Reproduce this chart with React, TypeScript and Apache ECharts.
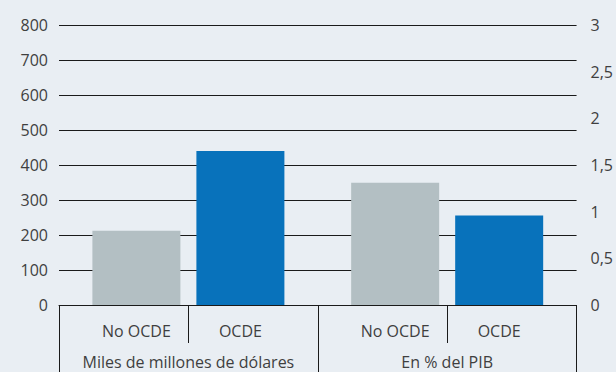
import React, { useEffect, useRef } from "react";
import * as echarts from "echarts";

const groups = ["Miles de millones de dólares", "En % del PIB"];
const seriesNames = ["No OCDE", "OCDE"];
const usdBillions = [212, 440]; // No OCDE, OCDE (left axis)
const pctGdp = [1.31, 0.96]; // No OCDE, OCDE (right axis)
const leftTicks = { min: 0, max: 800, interval: 100 };
const rightTicks = { min: 0, max: 3, interval: 0.5 };
const colors = ["#b3bfc3", "#0872bb"];

const FONT = "'Open Sans', sans-serif";
const TEXT = "#3f3f3f";

export default function App() {
  const ref = useRef<HTMLDivElement>(null);
  useEffect(() => {
    document.body.style.margin = "0";
    const chart = echarts.init(ref.current!, null, { renderer: "svg" });
    const label = {
      show: true,
      position: "bottom",
      distance: 18,
      formatter: "{a}",
      color: TEXT,
      fontFamily: FONT,
      fontSize: 16,
    };
    const mkSeries = (xi: number, yi: number, vals: number[], gi: number) =>
      seriesNames.map((name, si) => ({
        name,
        type: "bar",
        xAxisIndex: xi,
        yAxisIndex: yi,
        barWidth: 88,
        barGap: "18.2%",
        itemStyle: { color: colors[si] },
        label,
        data: groups.map((_, g) => (g === gi ? vals[si] : "-")),
      }));
    chart.setOption({
      animation: false,
      backgroundColor: "#e9eef3",
      textStyle: { fontFamily: FONT },
      grid: { left: 59, right: 37, top: 25, bottom: 67 },
      xAxis: [
        {
          type: "category",
          position: "bottom",
          data: groups,
          axisLine: { show: true, lineStyle: { color: "#1a1a1a", width: 1 } },
          axisTick: { show: true, length: 67, lineStyle: { color: "#1a1a1a" } },
          axisLabel: { interval: 0, margin: 49, color: TEXT, fontFamily: FONT, fontSize: 16 },
        },
        {
          type: "category",
          position: "bottom",
          data: groups,
          show: false,
        },
        {
          type: "category",
          position: "bottom",
          data: ["", "", "", ""],
          axisLine: { show: false },
          axisTick: { show: true, interval: 0, length: 38, lineStyle: { color: "#1a1a1a" } },
          axisLabel: { show: false },
        },
      ],
      yAxis: [
        {
          type: "value",
          position: "left",
          ...leftTicks,
          axisLine: { show: false },
          axisTick: { show: false },
          splitLine: { show: true, lineStyle: { color: "#1a1a1a", width: 1 } },
          axisLabel: { margin: 11, color: TEXT, fontFamily: FONT, fontSize: 16 },
        },
        {
          type: "value",
          position: "right",
          ...rightTicks,
          axisLine: { show: false },
          axisTick: { show: false },
          splitLine: { show: false },
          axisLabel: {
            margin: 14,
            color: TEXT,
            fontFamily: FONT,
            fontSize: 16,
            formatter: (v: number) => String(v).replace(".", ","),
          },
        },
      ],
      series: [...mkSeries(0, 0, usdBillions, 0), ...mkSeries(1, 1, pctGdp, 1)],
    });
    return () => chart.dispose();
  }, []);
  return (
    <div
      ref={ref}
      style={{ width: 616, height: 372, position: "absolute", left: 0, top: 0 }}
    />
  );
}
